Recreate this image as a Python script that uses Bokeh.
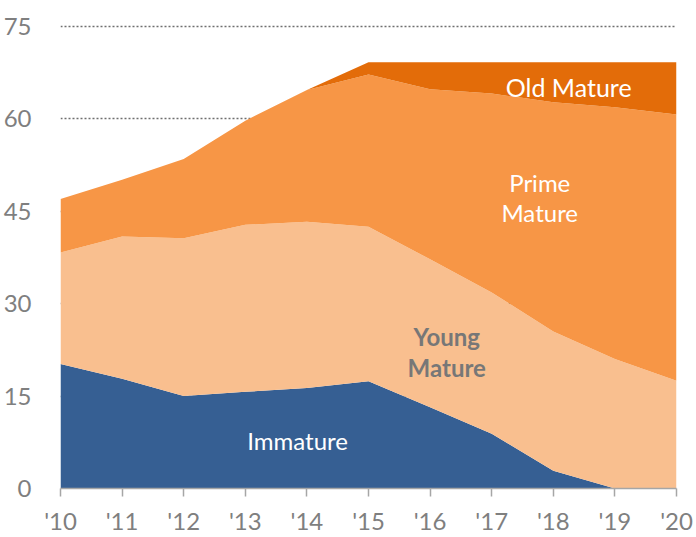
from bokeh.plotting import figure
from bokeh.models import ColumnDataSource, Range1d, FixedTicker
from bokeh.core.properties import value
from bokeh.embed import file_html
from bokeh.resources import INLINE

years = [2010, 2011, 2012, 2013, 2014, 2015, 2016, 2017, 2018, 2019, 2020]
tick_labels = ["'10", "'11", "'12", "'13", "'14", "'15", "'16", "'17", "'18", "'19", "'20"]
immature = [20.2, 17.8, 15.0, 15.7, 16.3, 17.4, 13.2, 8.9, 2.9, 0.0, 0.0]
young_mature = [18.1, 23.1, 25.6, 27.1, 27.0, 25.1, 24.0, 22.9, 22.6, 21.0, 17.5]
prime_mature = [8.7, 9.2, 12.9, 16.9, 21.4, 24.7, 27.6, 32.3, 37.2, 40.9, 43.2]
old_mature = [0.0, 0.0, 0.0, 0.0, 0.0, 2.0, 4.4, 5.1, 6.5, 7.3, 8.5]
y_ticks = [0, 15, 30, 45, 60, 75]

series = ["immature", "young", "prime", "old"]
colors = ["#365f93", "#f9bf8f", "#f79646", "#e36c09"]

source = ColumnDataSource(dict(year=years, immature=immature, young=young_mature,
                               prime=prime_mature, old=old_mature))

FONT = "Lato"
GREY = "#7f7f7f"

p = figure(width=696, height=537, output_backend="svg", toolbar_location=None,
           x_range=Range1d(2010, 2020), y_range=Range1d(0, 76.45),
           min_border_left=60, min_border_right=20, min_border_top=17,
           min_border_bottom=47)
p.outline_line_color = None
p.background_fill_color = "white"

p.varea_stack(series, x="year", color=colors, source=source)

# grid
p.xgrid.grid_line_color = None
p.ygrid.ticker = FixedTicker(ticks=y_ticks)
p.ygrid.grid_line_color = "#6f6f6f"
p.ygrid.grid_line_dash = "2 2"
p.ygrid.grid_line_width = 1.5

# y axis
p.yaxis.ticker = FixedTicker(ticks=y_ticks)
p.yaxis.axis_line_color = None
p.yaxis.major_tick_line_color = None
p.yaxis.minor_tick_line_color = None
p.yaxis.major_label_standoff = 23
p.yaxis.major_label_text_font = FONT
p.yaxis.major_label_text_font_size = "24px"
p.yaxis.major_label_text_color = GREY

# x axis
p.xaxis.ticker = FixedTicker(ticks=years)
p.xaxis.major_label_overrides = {y: t for y, t in zip(years, tick_labels)}
p.xaxis.axis_line_color = "#a6a6a6"
p.xaxis.axis_line_width = 1.5
p.xaxis.major_tick_line_color = "#a6a6a6"
p.xaxis.major_tick_line_width = 1.5
p.xaxis.major_tick_out = 8
p.xaxis.major_tick_in = 0
p.xaxis.minor_tick_line_color = None
p.xaxis.major_label_standoff = 9
p.xaxis.major_label_text_font = FONT
p.xaxis.major_label_text_font_size = "24px"
p.xaxis.major_label_text_color = GREY

# series labels
p.text(x=[2018.25], y=[65.1], text=["Old Mature"],
       text_color="white", text_font=value(FONT), text_font_size="25px",
       text_align="center", text_baseline="middle")
p.text(x=[2017.78, 2017.78, 2013.85], y=[49.6, 44.8, 7.8],
       text=["Prime", "Mature", "Immature"],
       text_color="white", text_font=value(FONT), text_font_size="24px",
       text_align="center", text_baseline="middle")
p.text(x=[2016.27, 2016.27], y=[24.7, 19.7], text=["Young", "Mature"],
       text_color="#777777", text_font=value(FONT), text_font_size="24px",
       text_font_style="bold", text_align="center", text_baseline="middle")

open("out.html", "w").write(file_html(p, INLINE))
